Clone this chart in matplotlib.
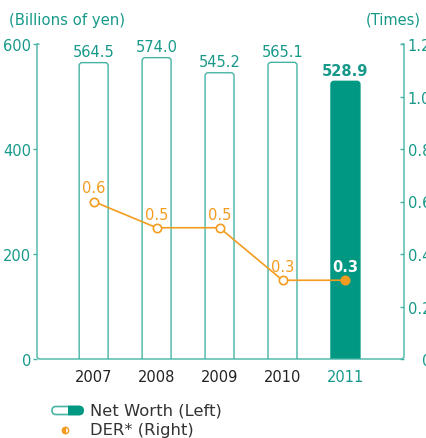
import matplotlib
matplotlib.use("Agg")
import matplotlib.pyplot as plt
from matplotlib.patches import FancyBboxPatch, Rectangle, PathPatch
from matplotlib.path import Path
from matplotlib.lines import Line2D

# ---- data ----
years = ["2007", "2008", "2009", "2010", "2011"]
net_worth = [564.5, 574.0, 545.2, 565.1, 528.9]      # billions of yen (left axis)
der = [0.6, 0.5, 0.5, 0.3, 0.3]                      # times (right axis)
left_ticks = [0, 200, 400, 600]
left_tick_labels = ["0", "200", "400", "600"]
right_ticks = [0, 0.2, 0.4, 0.6, 0.8, 1.0, 1.2]
right_tick_labels = ["0", "0.2", "0.4", "0.6", "0.8", "1.0", "1.2"]

# ---- style ----
TEAL_TEXT = "#17998a"
TEAL_LINE = "#45b4a5"
TEAL_FILL = "#009882"
ORANGE = "#f39c1f"
DARK = "#222222"
GREY = "#333333"

W, H = 426, 439
fig = plt.figure(figsize=(W / 100, H / 100), dpi=100)
ax = fig.add_axes([37 / W, 79 / H, 367 / W, 315 / H])
xs = list(range(len(years)))
ax.set_xlim(-0.9, 4.93)
ax.set_ylim(0, 600)

# bars, redrawn with rounded tops
bar_w = 0.46
bars = ax.bar(xs, net_worth, width=bar_w)
px_x = 367 / (4.93 + 0.9)
px_y = 315 / 600
rad_px = 3.0
rx = rad_px / px_x
ry = rad_px / px_y
for i, b in enumerate(bars):
    b.set_visible(False)
    last = i == len(bars) - 1
    x0 = b.get_x()
    h = b.get_height()
    patch = FancyBboxPatch(
        (x0, -30), b.get_width(), h + 30,
        boxstyle=f"round,pad=0,rounding_size={rx}",
        mutation_aspect=ry / rx,
        facecolor=TEAL_FILL if last else "white",
        edgecolor=TEAL_FILL if last else TEAL_LINE,
        linewidth=1.0, zorder=2,
    )
    ax.add_patch(patch)
    ax.annotate(f"{h:.1f}", (b.get_x() + b.get_width() / 2, h),
                xytext=(0, 2.5), textcoords="offset points",
                ha="center", va="bottom", fontsize=10.5, color=TEAL_TEXT,
                fontweight="bold" if last else "normal", zorder=5)

# axes frame with rounded lower corners
for s in ax.spines.values():
    s.set_visible(False)
cx = rad_px / 367
cy = rad_px / 315
hook = 2.5 / 367
verts = [(hook, 1), (0, 1), (0, cy), (0, 0), (cx, 0), (1 - cx, 0), (1, 0), (1, cy), (1, 1), (1 - hook, 1)]
codes = [Path.MOVETO, Path.LINETO, Path.LINETO, Path.CURVE3, Path.CURVE3,
         Path.LINETO, Path.CURVE3, Path.CURVE3, Path.LINETO, Path.LINETO]
frame = PathPatch(Path(verts, codes), transform=ax.transAxes, fill=False,
                  edgecolor=TEAL_LINE, linewidth=1.0, clip_on=False, zorder=3)
ax.add_patch(frame)

ax.set_yticks(left_ticks)
ax.set_yticklabels(left_tick_labels)
ax.tick_params(axis="y", direction="out", length=3, width=1.0, color=TEAL_LINE,
               labelcolor=TEAL_TEXT, labelsize=10.5, pad=1)
ax.set_xticks(xs)
ax.set_xticklabels(years)
ax.tick_params(axis="x", length=0, labelsize=10.5, pad=7, labelcolor=DARK)
ax.get_xticklabels()[-1].set_color(TEAL_TEXT)

# DER line on the right axis
ax2 = ax.twinx()
ax2.set_ylim(0, 1.2)
for s in ax2.spines.values():
    s.set_visible(False)
ax2.set_yticks(right_ticks)
ax2.set_yticklabels(right_tick_labels)
ax2.tick_params(axis="y", direction="in", length=3, width=1.0, color=TEAL_LINE,
                labelcolor=TEAL_TEXT, labelsize=10.5, pad=19.5)
for lbl in ax2.get_yticklabels():
    lbl.set_horizontalalignment("right")

ax2.plot(xs, der, color=ORANGE, linewidth=1.2, marker="o", markersize=6,
         markerfacecolor="white", markeredgecolor=ORANGE, markeredgewidth=1.2, zorder=4)
ax2.plot(xs[-1:], der[-1:], "o", color=ORANGE, markersize=5.5, zorder=5)
for i, v in enumerate(der):
    last = i == len(der) - 1
    ax2.annotate(f"{v:.1f}", (xs[i], v), xytext=(0, 4.5), textcoords="offset points",
                 ha="center", va="bottom", fontsize=10.5,
                 color="white" if last else ORANGE,
                 fontweight="bold" if last else "normal", zorder=6)

# unit captions
fig.text(9 / W, 1 - 20 / H, "(Billions of yen)", ha="left", va="center",
         fontsize=10.7, color=TEAL_TEXT)
fig.text(421 / W, 1 - 20 / H, "(Times)", ha="right", va="center",
         fontsize=10.5, color=TEAL_TEXT)

# legend
def fx(p):
    return p / W

def fy(p):
    return 1 - p / H

pill_x0, pill_x1, pill_top, pill_bot = 52, 83, 407.5, 415.5
pill_h = (pill_bot - pill_top) / H
pill_w = (pill_x1 - pill_x0) / W
rnd = 4 / W
asp = (W / H)
outline = FancyBboxPatch((fx(pill_x0), fy(pill_bot)), pill_w, pill_h,
                         boxstyle=f"round,pad=0,rounding_size={rnd}",
                         mutation_aspect=asp, transform=fig.transFigure,
                         facecolor="white", edgecolor=TEAL_LINE, linewidth=1.2)
fig.add_artist(outline)
solid = FancyBboxPatch((fx(pill_x0), fy(pill_bot)), pill_w, pill_h,
                       boxstyle=f"round,pad=0,rounding_size={rnd}",
                       mutation_aspect=asp, transform=fig.transFigure,
                       facecolor=TEAL_FILL, edgecolor=TEAL_FILL, linewidth=1.2)
fig.add_artist(solid)
clip = Rectangle((fx(68), fy(420)), fx(30), 15 / H, transform=fig.transFigure)
solid.set_clip_path(clip)

fig.text(fx(90.5), fy(411), "Net Worth (Left)", ha="left", va="center",
         fontsize=11.8, color=GREY)
fig.add_artist(Line2D([fx(64.5)], [fy(431)], transform=fig.transFigure, marker="o",
                      markersize=4.6, fillstyle="left", markerfacecolor=ORANGE,
                      markerfacecoloralt="white", markeredgecolor=ORANGE,
                      markeredgewidth=1.0, linestyle="none"))
fig.text(fx(90.5), fy(431), "DER* (Right)", ha="left", va="center",
         fontsize=11.8, color=GREY)

fig.savefig("out.png", dpi=100)
